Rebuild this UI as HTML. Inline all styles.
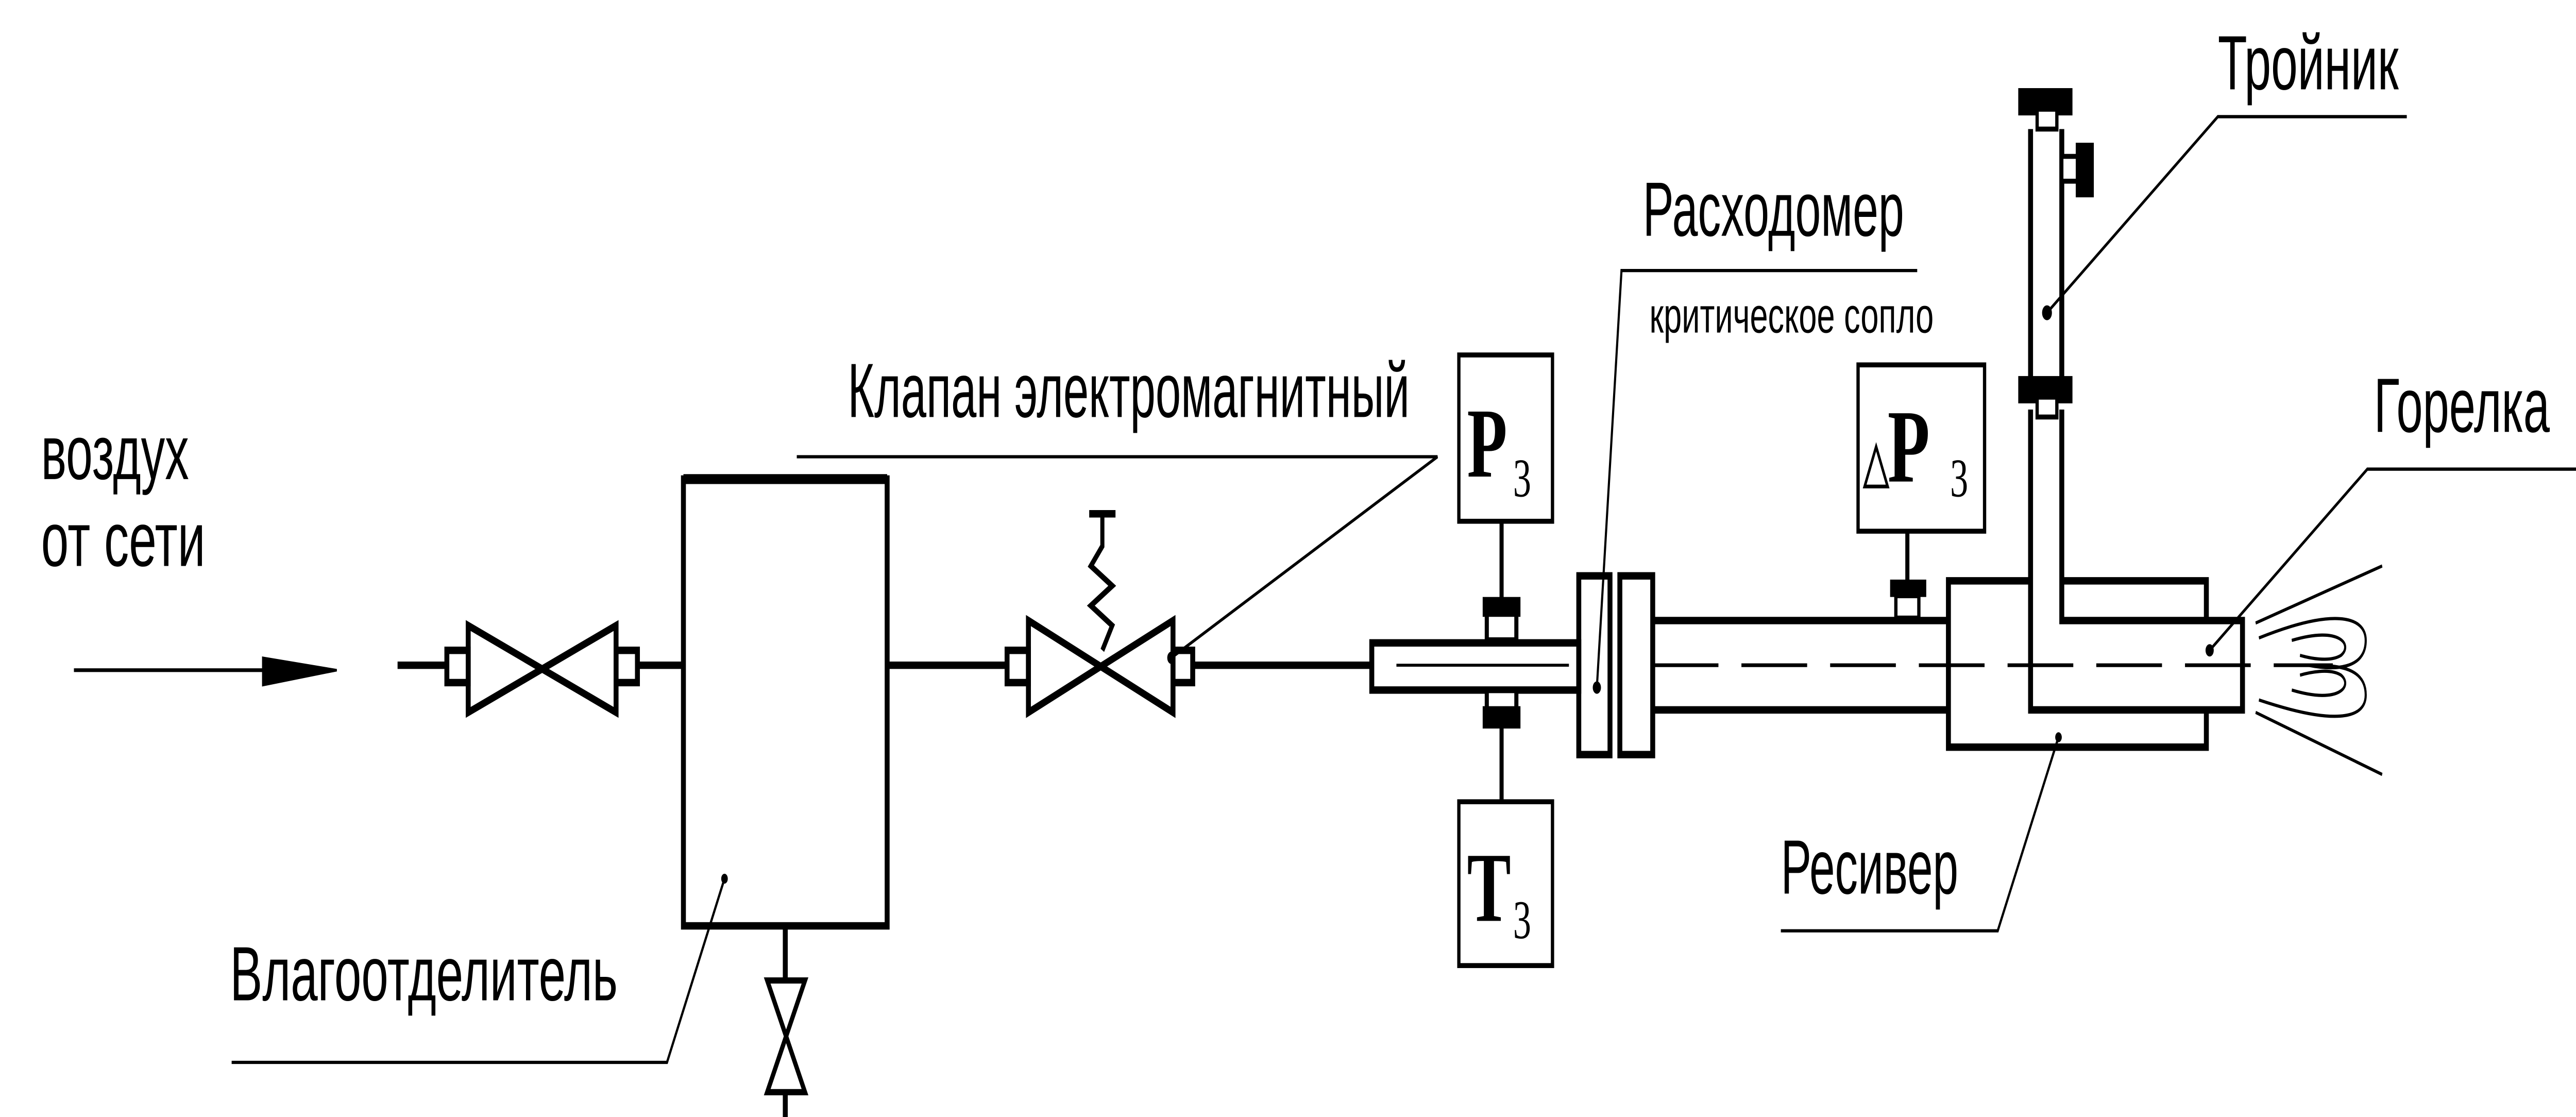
<!DOCTYPE html>
<html><head><meta charset="utf-8"><style>
html,body{margin:0;padding:0;background:#fff;overflow:hidden;width:100vw;height:100vh;}
svg{display:block;width:100vw;height:100vh}
text{font-family:"Liberation Sans","DejaVu Sans",sans-serif;fill:#000}
.s{font-family:"Liberation Serif",serif;font-weight:bold}
</style></head><body>
<svg viewBox="0 0 1568 450" preserveAspectRatio="none" xmlns="http://www.w3.org/2000/svg">
<rect width="1568" height="450" fill="#fff"/>
<g fill="none" stroke="#000" stroke-width="3">
<line x1="45" y1="270" x2="170" y2="270" stroke-width="1.5"/>
<path d="M160 265 L205 270 L160 276 Z" fill="#000" stroke-width="1"/>
<line x1="242" y1="268" x2="272" y2="268"/>
<rect x="272" y="262" width="13" height="13"/>
<path d="M285 252 L375 287 L375 252 L285 287 Z"/>
<rect x="375" y="262" width="13" height="13"/>
<line x1="388" y1="268" x2="416" y2="268"/>
<rect x="416" y="193" width="124" height="180"/>
<line x1="416" y1="193" x2="540" y2="193" stroke-width="4"/>
<line x1="478" y1="373" x2="478" y2="395"/>
<path d="M467 395 L490 440 L467 440 L490 395 Z" stroke-width="2.5"/>
<line x1="478" y1="440" x2="478" y2="450"/>
<line x1="540" y1="268" x2="613" y2="268"/>
<rect x="613" y="262" width="13" height="13"/>
<path d="M626 250 L714 287 L714 250 L626 287 Z"/>
<rect x="714" y="262" width="12" height="13"/>
<polyline points="663,207 679,207" />
<polyline points="671,207 671,220 664,228 677,236 664,244 677,252 671,262" stroke-width="2.5"/>
<line x1="726" y1="268" x2="835" y2="268"/>
<rect x="835" y="259" width="126" height="19"/>
<line x1="850" y1="268" x2="955" y2="268" stroke-width="1.2"/>
<rect x="888" y="143" width="57" height="67" stroke-width="2"/>
<line x1="914" y1="210" x2="914" y2="241" stroke-width="2.5"/>
<rect x="905" y="244" width="18" height="14" fill="#fff" stroke-width="2.5"/>
<rect x="903" y="241" width="22" height="7" fill="#000" stroke-width="1"/>
<rect x="905" y="278" width="18" height="9" fill="#fff" stroke-width="2.5"/>
<rect x="903" y="285" width="22" height="8" fill="#000" stroke-width="1"/>
<line x1="914" y1="293" x2="914" y2="323" stroke-width="2.5"/>
<rect x="888" y="323" width="57" height="66" stroke-width="2"/>
<rect x="961" y="232" width="19" height="72"/>
<rect x="986" y="232" width="20" height="72"/>
<line x1="1006" y1="250" x2="1186" y2="250"/>
<line x1="1006" y1="286" x2="1186" y2="286"/>
<rect x="1186" y="234" width="157" height="67"/>
<path d="M1255 165 L1255 250 L1365 250 L1365 286 L1236 286 L1236 165" fill="#fff"/>
<path d="M1236 152 L1236 52 M1255 52 L1255 152"/>
<rect x="1229" y="152" width="32" height="10" fill="#000" stroke-width="1"/>
<rect x="1240" y="160" width="12" height="8" fill="#fff" stroke-width="2"/>
<rect x="1229" y="36" width="32" height="10" fill="#000" stroke-width="1"/>
<rect x="1240" y="44" width="12" height="8" fill="#fff" stroke-width="2"/>
<rect x="1255" y="63" width="10" height="10" fill="#fff" stroke-width="2"/>
<rect x="1264" y="58" width="10" height="21" fill="#000" stroke-width="1"/>
<rect x="1131" y="147" width="77" height="67" stroke-width="2"/>
<line x1="1161" y1="214" x2="1161" y2="234" stroke-width="2.5"/>
<rect x="1151" y="234" width="21" height="6" fill="#000" stroke-width="1"/>
<rect x="1154" y="240" width="14" height="9" fill="#fff" stroke-width="2"/>
<line x1="1006" y1="268" x2="1420" y2="268" stroke-width="1.5" stroke-dasharray="40,14"/>
<g stroke-width="1.3">
<line x1="1373" y1="251" x2="1450" y2="228"/>
<line x1="1373" y1="287" x2="1450" y2="312"/>
<path d="M1375 257 C1420 245 1440 248 1440 258 C1440 270 1420 270 1405 268"/>
<path d="M1375 282 C1420 292 1440 290 1440 280 C1440 268 1420 268 1405 268"/>
<path d="M1395 258 C1425 252 1432 260 1425 264 C1418 267 1405 265 1400 264"/>
<path d="M1395 278 C1425 284 1432 276 1425 272 C1418 269 1405 271 1400 272"/>
</g>
<g stroke-width="1.3">
<polyline points="141,428 406,428 441,354"/>
<polyline points="485,184 875,184 713,265"/>
<polyline points="1167,109 987,109 972,277"/>
<polyline points="1465,47 1350,47 1246,126"/>
<polyline points="1568,189 1441,189 1345,262"/>
<polyline points="1084,375 1216,375 1253,297"/>
</g>
</g>
<g fill="#000">
<circle cx="441" cy="354" r="2"/><circle cx="713" cy="265" r="2.5"/><circle cx="972" cy="277" r="2.5"/>
<circle cx="1246" cy="126" r="3"/><circle cx="1345" cy="262" r="2.5"/><circle cx="1253" cy="297" r="2"/>
</g>
<g font-size="31">
<text x="25" y="193" textLength="90" lengthAdjust="spacingAndGlyphs">воздух</text>
<text x="25" y="228" textLength="100" lengthAdjust="spacingAndGlyphs">от сети</text>
<text x="140" y="403" textLength="236" lengthAdjust="spacingAndGlyphs">Влагоотделитель</text>
<text x="516" y="168" textLength="342" lengthAdjust="spacingAndGlyphs">Клапан электромагнитный</text>
<text x="1000" y="95" textLength="159" lengthAdjust="spacingAndGlyphs">Расходомер</text>
<text x="1350" y="36" textLength="110" lengthAdjust="spacingAndGlyphs">Тройник</text>
<text x="1445" y="174" textLength="107" lengthAdjust="spacingAndGlyphs">Горелка</text>
<text x="1084" y="360" textLength="108" lengthAdjust="spacingAndGlyphs">Ресивер</text>
</g>
<text x="1004" y="134" font-size="20" textLength="173" lengthAdjust="spacingAndGlyphs">критическое сопло</text>
<text class="s" x="893" y="192" font-size="40">P</text>
<text x="921" y="200" font-size="22" class="s" style="font-weight:normal">3</text>
<text class="s" x="893" y="371" font-size="40">T</text>
<text x="921" y="378" font-size="22" class="s" style="font-weight:normal">3</text>
<path d="M1135 196 L1142 180 L1149 196 Z" fill="none" stroke="#000" stroke-width="1.5"/>
<text class="s" x="1149" y="194" font-size="42">P</text>
<text x="1187" y="200" font-size="22" class="s" style="font-weight:normal">3</text>
</svg>
</body></html>
